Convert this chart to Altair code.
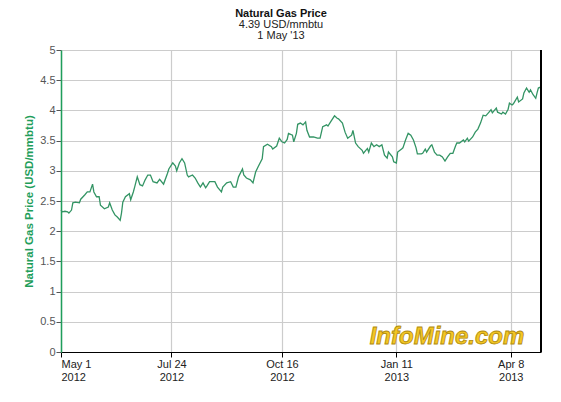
import altair as alt
import pandas as pd

# Day offsets from 1 May 2012 and prices (USD/mmbtu)
days = [0, 1, 3, 5, 6, 8, 9, 11, 14, 15, 18, 20, 22, 24, 25, 27, 29, 30, 33, 36,
        37, 39, 41, 43, 45, 46, 47, 49, 52, 53, 55, 56, 58, 60, 62, 64, 66, 68, 70, 73,
        75, 78, 81, 82, 85, 87, 88, 90, 92, 94, 96, 97, 100, 102, 104, 106, 108, 110, 111, 113,
        117, 119, 122, 123, 126, 129, 131, 133, 135, 138, 139, 141, 144, 146, 148, 150, 153, 154, 157, 160,
        161, 164, 166, 168, 170, 172, 173, 176, 177, 179, 180, 182, 184, 186, 187, 189, 192, 195, 197, 199,
        202, 203, 205, 208, 210, 211, 214, 216, 218, 221, 222, 224, 226, 229, 230, 233, 234, 236, 238, 240,
        242, 244, 246, 248, 249, 252, 253, 255, 256, 259, 260, 262, 264, 266, 268, 270, 271, 274, 275, 277,
        278, 281, 282, 284, 286, 288, 290, 292, 294, 296, 298, 300, 301, 303, 306, 307, 309, 310, 313, 315,
        317, 319, 321, 323, 325, 327, 328, 331, 332, 335, 336, 338, 340, 341, 343, 344, 347, 348, 351, 352,
        354, 356, 357, 359, 361, 362, 363, 365]
prices = [2.35, 2.32, 2.33, 2.32, 2.30, 2.35, 2.47, 2.48, 2.47, 2.53, 2.60, 2.65, 2.65, 2.78, 2.65, 2.57, 2.57, 2.43, 2.37, 2.40,
          2.47, 2.35, 2.27, 2.23, 2.18, 2.30, 2.48, 2.57, 2.62, 2.52, 2.65, 2.73, 2.90, 2.77, 2.75, 2.85, 2.93, 2.93, 2.82, 2.80,
          2.86, 2.78, 2.96, 3.03, 3.13, 3.08, 3.00, 3.13, 3.20, 3.13, 2.93, 2.90, 2.93, 2.88, 2.80, 2.73, 2.80, 2.72, 2.75, 2.82,
          2.82, 2.73, 2.65, 2.73, 2.80, 2.82, 2.73, 2.73, 2.90, 3.03, 2.93, 2.88, 2.85, 2.80, 2.98, 3.07, 3.20, 3.40, 3.44, 3.40,
          3.36, 3.41, 3.54, 3.48, 3.46, 3.52, 3.62, 3.59, 3.48, 3.62, 3.77, 3.79, 3.76, 3.81, 3.67, 3.56, 3.56, 3.54, 3.54, 3.73,
          3.76, 3.74, 3.81, 3.91, 3.87, 3.86, 3.79, 3.64, 3.54, 3.59, 3.67, 3.46, 3.40, 3.34, 3.29, 3.37, 3.31, 3.46, 3.40, 3.43,
          3.40, 3.43, 3.26, 3.21, 3.31, 3.23, 3.15, 3.13, 3.31, 3.36, 3.38, 3.51, 3.62, 3.59, 3.51, 3.38, 3.28, 3.28, 3.29, 3.36,
          3.31, 3.41, 3.43, 3.31, 3.26, 3.26, 3.23, 3.16, 3.23, 3.29, 3.29, 3.41, 3.46, 3.46, 3.51, 3.48, 3.54, 3.49, 3.56, 3.64,
          3.69, 3.79, 3.92, 3.91, 3.96, 4.01, 3.96, 4.04, 3.97, 3.94, 3.97, 3.94, 4.02, 4.12, 4.09, 4.11, 4.22, 4.14, 4.19, 4.29,
          4.37, 4.30, 4.34, 4.26, 4.20, 4.29, 4.37, 4.39]

x_tick_dates = [(2012, 5, 1), (2012, 7, 24), (2012, 10, 16), (2013, 1, 11), (2013, 4, 8)]
y_ticks = [0, 0.5, 1, 1.5, 2, 2.5, 3, 3.5, 4, 4.5, 5]
title_text = "Natural Gas Price"
subtitle_lines = ["4.39 USD/mmbtu", "1 May '13"]
y_title = "Natural Gas Price (USD/mmbtu)"
watermark = "InfoMine.com"

df = pd.DataFrame({
    "date": pd.Timestamp("2012-05-01") + pd.to_timedelta(days, unit="D"),
    "price": prices,
})

W, H = 480, 302
GREEN = "#1f9e5b"
LINE = "#339464"
FONT = "Liberation Sans"

xticks = [alt.DateTime(year=y, month=m, date=d) for (y, m, d) in x_tick_dates]

line = alt.Chart(df).mark_line(color=LINE, strokeWidth=1.3).encode(
    x=alt.X("date:T",
            scale=alt.Scale(domain=[alt.DateTime(year=2012, month=5, date=1),
                                    alt.DateTime(year=2013, month=5, date=1)], nice=False),
            axis=alt.Axis(values=xticks, title=None,
                          labelExpr="[timeFormat(datum.value, '%b %-d'), timeFormat(datum.value, '%Y')]",
                          domainColor="#000000", tickColor="#000000", tickSize=5,
                          labelColor="#222222", labelFont=FONT, labelFontSize=11,
                          labelLineHeight=13, labelPadding=1,
                          gridColor="#cccccc", gridWidth=1.2)),
    y=alt.Y("price:Q", scale=alt.Scale(domain=[0, 5], nice=False, zero=True),
            axis=alt.Axis(values=y_ticks, title=y_title,
                          labelExpr="'' + datum.value",
                          domainColor=GREEN, domainWidth=1.5, tickColor="#555555", tickSize=5,
                          labelColor="#555555", labelFont=FONT, labelFontSize=11, labelPadding=1,
                          titleColor=GREEN, titleFont=FONT, titleFontSize=11.5, titleFontWeight="bold",
                          titlePadding=5,
                          gridColor="#cccccc", gridWidth=1.2)),
)

right_border = alt.Chart(df).mark_rule(color="#000000", strokeWidth=1.2).encode(
    x=alt.value(W), y=alt.value(0), y2=alt.value(H)
)

mark_text = alt.Chart(pd.DataFrame({"t": [watermark]})).mark_text(
    font=FONT, fontSize=24, fontWeight="bold", fontStyle="italic",
    color="#f3c623", stroke="#b08a10", strokeWidth=0.8, align="center", baseline="alphabetic"
).encode(text="t:N", x=alt.value(386), y=alt.value(294))

title_layers = []
for txt, yy, wt, col in [(title_text, -33, "bold", "#111111"),
                         (subtitle_lines[0], -22, "normal", "#222222"),
                         (subtitle_lines[1], -11.5, "normal", "#222222")]:
    title_layers.append(
        alt.Chart(pd.DataFrame({"t": [txt]})).mark_text(
            font=FONT, fontSize=11, fontWeight=wt, color=col,
            align="center", baseline="alphabetic"
        ).encode(text="t:N", x=alt.value(220), y=alt.value(yy))
    )

chart = alt.layer(line, right_border, mark_text, *title_layers).properties(
    width=W, height=H,
    autosize=alt.AutoSizeParams(type="none"),
    padding={"left": 53, "top": 42, "right": 12, "bottom": 40},
).configure_view(stroke=None).configure(background="white")

chart.save("out.html", embed_options={"renderer": "svg", "actions": False})
